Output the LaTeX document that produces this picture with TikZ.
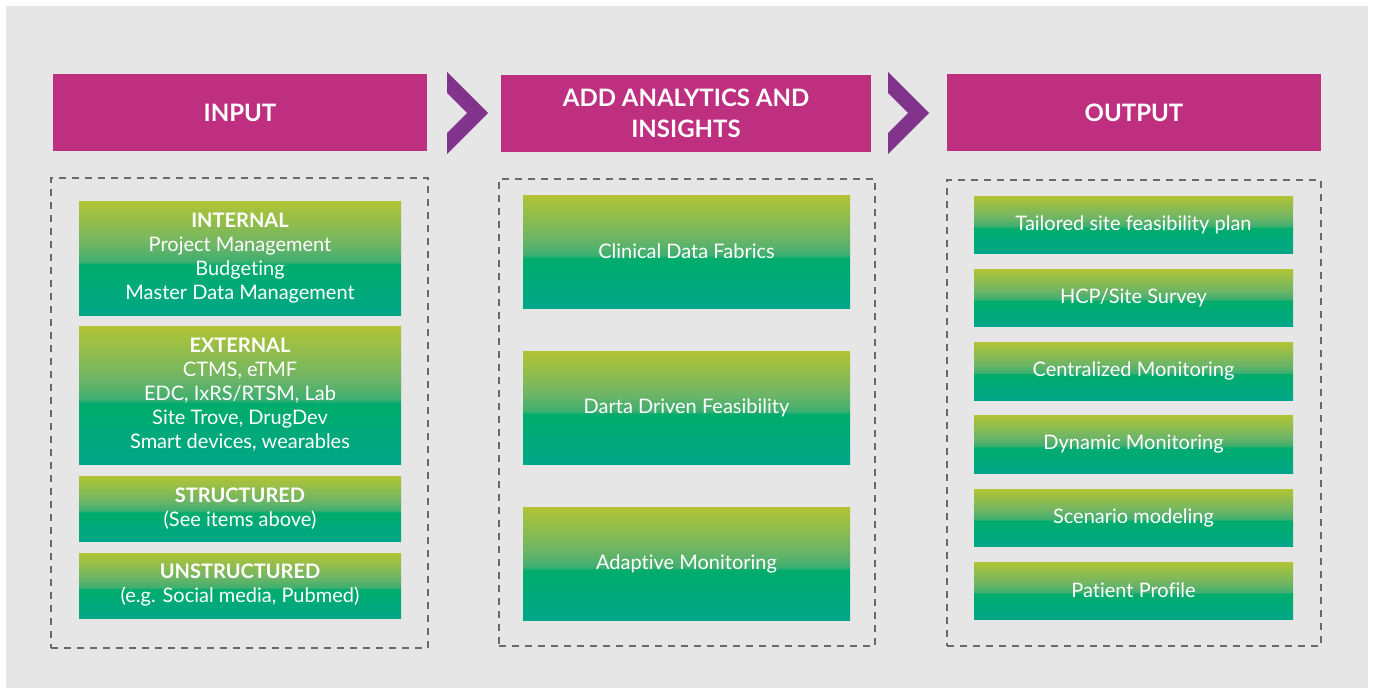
\documentclass[tikz,border=0pt]{standalone}
\usepackage{fontspec}
\setmainfont{Lato}[Ligatures={NoCommon,NoRare,NoDiscretionary}]
\definecolor{bgc}{RGB}{229,230,229}
\definecolor{hdr}{RGB}{190,47,127}
\definecolor{chev}{RGB}{130,52,140}
\definecolor{gtop}{RGB}{178,196,52}
\definecolor{gup}{RGB}{110,181,102}
\definecolor{gmute}{RGB}{62,175,112}
\definecolor{gmid}{RGB}{0,172,108}
\definecolor{gbot}{RGB}{0,166,135}
\definecolor{dash}{RGB}{105,105,105}
\pgfdeclareverticalshading{greenfade}{100bp}{color(0bp)=(gbot); color(25bp)=(gbot); color(47bp)=(gmid); color(48.5bp)=(gmute); color(56bp)=(gup); color(75bp)=(gtop); color(100bp)=(gtop)}
\tikzset{
  hdrbox/.style={fill=hdr, inner sep=0pt, minimum height=77, text=white, align=center, font=\fontsize{24}{31}\selectfont\bfseries},
  gbox/.style={shading=greenfade, inner sep=0pt, text=white, align=center, font=\fontsize{20}{24}\selectfont},
  dbox/.style={draw=dash, line width=2pt, dash pattern=on 7pt off 6pt, inner sep=0pt},
  chevron/.style={fill=chev, draw=none}
}
\begin{document}
\begin{tikzpicture}[x=1pt,y=-1pt]
\useasboundingbox (0,0) rectangle (1374,688);
\fill[white] (0,0) rectangle (1374,688);
\fill[bgc] (6,6) rectangle (1368,688);

% headers
\node[hdrbox, minimum width=374] (hin) at (240,112.5) {INPUT};
\node[hdrbox, minimum width=370] (han) at (686,113) {ADD ANALYTICS AND\\INSIGHTS};
\node[hdrbox, minimum width=374] (hout) at (1134,112.5) {OUTPUT};

% chevrons
\fill[chevron] (447,72) -- (488,113) -- (447,154) -- (447,133) -- (467,113) -- (447,93) -- cycle;
\fill[chevron] (888,72) -- (929,113) -- (888,154) -- (888,133) -- (908,113) -- (888,93) -- cycle;

% dashed frames
\node[dbox, minimum width=377, minimum height=470] (fin) at (239.5,413) {};
\node[dbox, minimum width=376, minimum height=467] (fan) at (687,412.5) {};
\node[dbox, minimum width=374, minimum height=466] (fout) at (1134,413) {};

% input boxes
\node[gbox, minimum width=322, minimum height=114] (int) at (240,258) {\textbf{INTERNAL}\\Project Management\\Budgeting\\Master Data Management};
\node[gbox, minimum width=322, minimum height=138] (ext) at (240,395) {\textbf{EXTERNAL}\\CTMS, eTMF\\EDC, IxRS/RTSM, Lab\\Site Trove, DrugDev\\Smart devices, wearables};
\node[gbox, minimum width=322, minimum height=65] (str) at (240,508.5) {\textbf{STRUCTURED}\\(See items above)};
\node[gbox, minimum width=322, minimum height=65] (uns) at (240,585.5) {\textbf{UNSTRUCTURED}\\(e.g. Social media, Pubmed)};

% analytics boxes
\node[gbox, minimum width=327, minimum height=113] (cdf) at (686.5,251.5) {Clinical Data Fabrics};
\node[gbox, minimum width=327, minimum height=113] (ddf) at (686.5,407.5) {Darta Driven Feasibility};
\node[gbox, minimum width=327, minimum height=113] (am) at (686.5,563.5) {Adaptive Monitoring};

% output boxes
\node[gbox, minimum width=319, minimum height=57] (o1) at (1133.5,224.5) {Tailored site feasibility plan};
\node[gbox, minimum width=319, minimum height=57] (o2) at (1133.5,297.5) {HCP/Site Survey};
\node[gbox, minimum width=319, minimum height=58] (o3) at (1133.5,371) {Centralized Monitoring};
\node[gbox, minimum width=319, minimum height=58] (o4) at (1133.5,444) {Dynamic Monitoring};
\node[gbox, minimum width=319, minimum height=57] (o5) at (1133.5,517.5) {Scenario modeling};
\node[gbox, minimum width=319, minimum height=57] (o6) at (1133.5,590.5) {Patient Profile};
\end{tikzpicture}
\end{document}
